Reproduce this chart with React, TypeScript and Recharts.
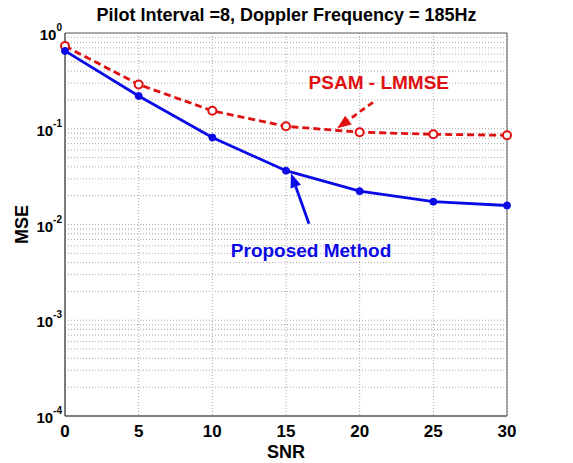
import React from "react";
import {
  LineChart,
  Line,
  XAxis,
  YAxis,
  CartesianGrid,
  ReferenceLine,
  ReferenceDot,
  ReferenceArea,
} from "recharts";

const snr = [0, 5, 10, 15, 20, 25, 30];
const proposed = [0.65, 0.22, 0.081, 0.0365, 0.0223, 0.0173, 0.0158];
const psamLmmse = [0.73, 0.29, 0.154, 0.106, 0.092, 0.0875, 0.0855];
const xTicks = [0, 5, 10, 15, 20, 25, 30];
const yDecades = [-4, -3, -2, -1, 0];

const FONT = "'Liberation Sans', Arial, sans-serif";
const BLUE = "#0a0ae6";
const RED = "#e01010";
const GRID = "#a8a8a8";

const rows = snr.map((s, i) => ({ snr: s, proposed: proposed[i], psam: psamLmmse[i] }));

// minor log grid: 1..9 x 10^k
const minorGrid: number[] = [];
for (const d of yDecades.slice(0, -1)) {
  for (let m = 1; m <= 9; m++) minorGrid.push(m * Math.pow(10, d));
}

// annotations, data coordinates
const notes = [
  { text: "PSAM - LMMSE", x: 21.3, y: 0.307, color: RED },
  { text: "Proposed Method", x: 16.7, y: 0.00534, color: BLUE },
];
const arrows = [
  { from: { x: 20.9, y: 0.189 }, to: { x: 18.47, y: 0.101 }, color: RED, dash: "6 4" },
  { from: { x: 16.56, y: 0.0102 }, to: { x: 15.34, y: 0.0342 }, color: BLUE, dash: undefined },
];

const YTick = (props: any) => {
  const { x, y, payload } = props;
  const exp = Math.round(Math.log10(payload.value));
  return (
    <text x={x - 1} y={y + 7} textAnchor="end" fontFamily={FONT} fontWeight="bold" fontSize={15} fill="#000">
      10
      <tspan dy={-9} fontSize={10}>
        {exp}
      </tspan>
    </text>
  );
};

const arrowShape = (color: string, dash?: string) => (props: any) => {
  const { x1, y1, x2, y2 } = props;
  if (x1 == null) return null;
  const ang = Math.atan2(y2 - y1, x2 - x1);
  const len = 14;
  const w = 5.5;
  const bx = x2 - len * Math.cos(ang);
  const by = y2 - len * Math.sin(ang);
  const px = -Math.sin(ang) * w;
  const py = Math.cos(ang) * w;
  return (
    <g>
      <line x1={x1} y1={y1} x2={bx} y2={by} stroke={color} strokeWidth={2.8} strokeDasharray={dash} />
      <polygon points={`${x2},${y2} ${bx + px},${by + py} ${bx - px},${by - py}`} fill={color} />
    </g>
  );
};

const noteShape = (text: string, color: string) => (props: any) => (
  <text
    x={props.cx}
    y={props.cy}
    textAnchor="middle"
    dominantBaseline="central"
    fontFamily={FONT}
    fontWeight="bold"
    fontSize={19}
    fill={color}
  >
    {text}
  </text>
);

export default function App() {
  return (
    <div style={{ position: "absolute", left: 0, top: 0, width: 573, height: 463, background: "#fff" }}>
      <div
        style={{
          position: "absolute",
          top: 5,
          left: 0,
          width: 573,
          textAlign: "center",
          fontFamily: FONT,
          fontWeight: "bold",
          fontSize: 18,
          color: "#000",
        }}
      >
        Pilot Interval =8, Doppler Frequency = 185Hz
      </div>
      <LineChart width={573} height={463} data={rows} margin={{ top: 33, right: 66, bottom: 0, left: 0 }}>
        <CartesianGrid horizontal={false} stroke={GRID} strokeDasharray="1 2" />
        {minorGrid.map((v) => (
          <ReferenceLine key={v} y={v} stroke={GRID} strokeDasharray="1 2" />
        ))}
        <XAxis
          dataKey="snr"
          type="number"
          domain={[0, 30]}
          ticks={xTicks}
          height={47}
          tickLine={false}
          axisLine={{ stroke: "#555" }}
          tick={{ fontFamily: FONT, fontWeight: "bold", fontSize: 17, fill: "#000" }}
          tickMargin={3}
          label={{
            value: "SNR",
            position: "insideBottom",
            offset: 5,
            style: { fontFamily: FONT, fontWeight: "bold", fontSize: 18, fill: "#000" },
          }}
        />
        <YAxis
          scale="log"
          domain={[1e-4, 1]}
          ticks={yDecades.map((d) => Math.pow(10, d))}
          allowDataOverflow
          width={65}
          tickLine={false}
          tickSize={0}
          tickMargin={2}
          axisLine={{ stroke: "#555" }}
          tick={<YTick />}
          label={{
            value: "MSE",
            angle: -90,
            position: "insideLeft",
            offset: 22,
            style: { fontFamily: FONT, fontWeight: "bold", fontSize: 18, fill: "#000", textAnchor: "middle" },
          }}
        />
        <ReferenceArea x1={0} x2={30} y1={1e-4} y2={1} fill="none" stroke="#555" strokeWidth={1} />
        <Line
          dataKey="psam"
          stroke={RED}
          strokeWidth={2.8}
          strokeDasharray="7 4"
          dot={{ r: 4, fill: "#fff", stroke: RED, strokeWidth: 2, strokeDasharray: "" }}
          isAnimationActive={false}
        />
        <Line
          dataKey="proposed"
          stroke={BLUE}
          strokeWidth={2.8}
          dot={{ r: 3.5, fill: BLUE, stroke: BLUE, strokeWidth: 1 }}
          isAnimationActive={false}
        />
        {arrows.map((a, i) => (
          <ReferenceLine
            key={"a" + i}
            segment={[a.from, a.to]}
            ifOverflow="visible"
            shape={arrowShape(a.color, a.dash)}
          />
        ))}
        {notes.map((n) => (
          <ReferenceDot key={n.text} x={n.x} y={n.y} r={0} ifOverflow="visible" shape={noteShape(n.text, n.color)} />
        ))}
      </LineChart>
    </div>
  );
}
